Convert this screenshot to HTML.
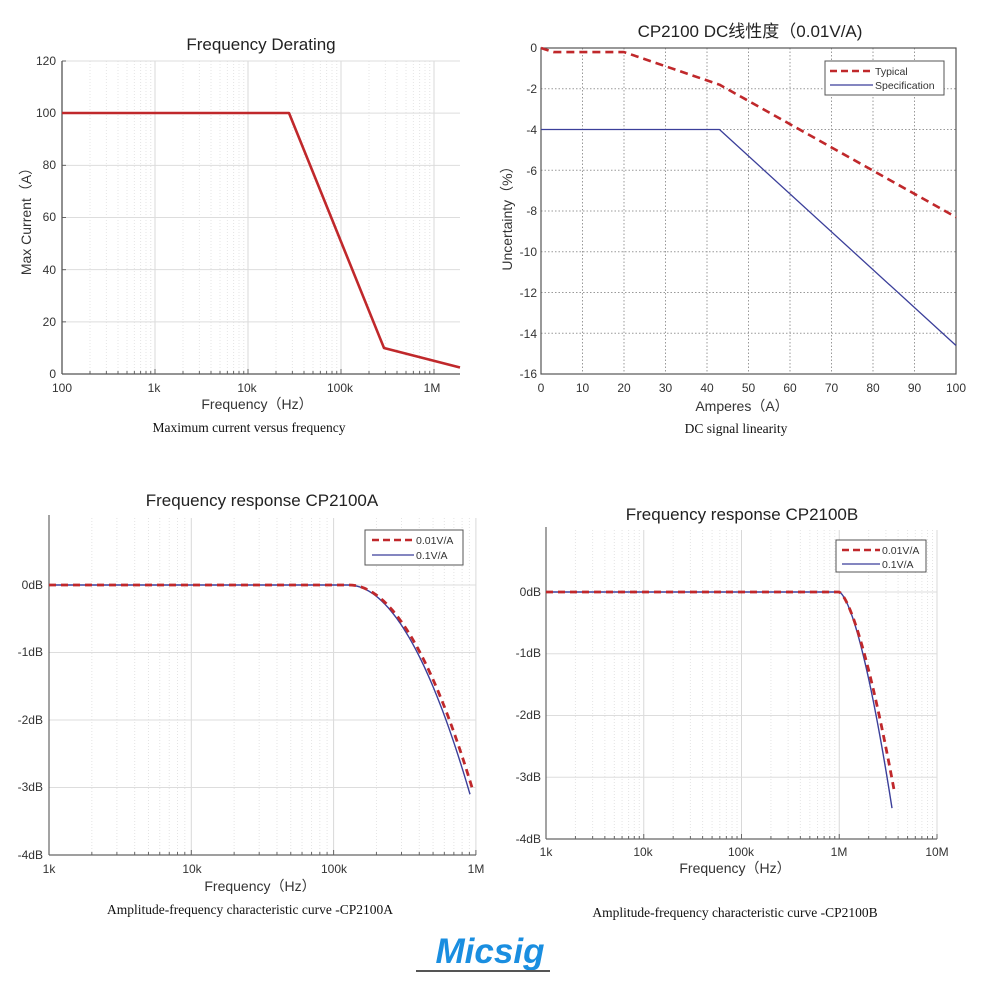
<!DOCTYPE html>
<html><head><meta charset="utf-8"><style>
html,body{margin:0;padding:0;background:#fff;}
svg{display:block;font-family:"Liberation Sans","Noto Sans CJK SC",sans-serif;}
.t{font-size:17px;fill:#222;text-anchor:middle}
.tk{font-size:12px;fill:#333}
.lb{font-size:14px;fill:#333;text-anchor:middle}
.cap{font-family:"Liberation Serif",serif;font-size:13.5px;fill:#111;text-anchor:middle}
.lg{font-size:10.5px;fill:#333}
</style></head><body>
<svg id="s" width="1000" height="1000" viewBox="0 0 1000 1000" xmlns="http://www.w3.org/2000/svg">
<g id="g"></g>
<text class="t" x="261" y="50">Frequency Derating</text>
<g class="tk" text-anchor="end">
<text x="56" y="65">120</text><text x="56" y="117">100</text><text x="56" y="169">80</text>
<text x="56" y="221">60</text><text x="56" y="274">40</text><text x="56" y="326">20</text><text x="56" y="378">0</text></g>
<g class="tk" text-anchor="middle">
<text x="62" y="392">100</text><text x="154" y="392">1k</text><text x="247" y="392">10k</text>
<text x="340" y="392">100k</text><text x="432" y="392">1M</text></g>
<text class="lb" x="257" y="409">Frequency（Hz）</text>
<text class="lb" transform="translate(31,218) rotate(-90)">Max Current（A）</text>
<text class="cap" x="249" y="432">Maximum current versus frequency</text>
<text class="t" x="750" y="37">CP2100  DC线性度（0.01V/A)</text>
<g class="tk" text-anchor="end">
<text x="537" y="52">0</text><text x="537" y="93">-2</text><text x="537" y="134">-4</text><text x="537" y="175">-6</text>
<text x="537" y="215">-8</text><text x="537" y="256">-10</text><text x="537" y="297">-12</text><text x="537" y="338">-14</text><text x="537" y="378">-16</text></g>
<g class="tk" text-anchor="middle">
<text x="541" y="392">0</text><text x="582.5" y="392">10</text><text x="624" y="392">20</text><text x="665.5" y="392">30</text><text x="707" y="392">40</text><text x="748.5" y="392">50</text><text x="790" y="392">60</text><text x="831.5" y="392">70</text><text x="873" y="392">80</text><text x="914.5" y="392">90</text><text x="956" y="392">100</text></g>
<text class="lb" x="742" y="411">Amperes（A）</text>
<text class="lb" transform="translate(512,215) rotate(-90)">Uncertainty（%）</text>
<text class="cap" x="736" y="433">DC signal linearity</text>
<rect x="825" y="61" width="119" height="34" fill="#fff" stroke="#555" stroke-width="1"/>
<line x1="830" y1="71" x2="873" y2="71" stroke="#c0282b" stroke-width="2.5" stroke-dasharray="7,4"/>
<line x1="830" y1="85" x2="873" y2="85" stroke="#3b3f9a" stroke-width="1.3"/>
<text class="lg" x="875" y="75">Typical</text><text class="lg" x="875" y="89">Specification</text>
<text class="t" x="262" y="506">Frequency response CP2100A</text>
<g class="tk" text-anchor="end">
<text x="43" y="589">0dB</text><text x="43" y="656">-1dB</text><text x="43" y="724">-2dB</text>
<text x="43" y="791">-3dB</text><text x="43" y="859">-4dB</text></g>
<g class="tk" text-anchor="middle">
<text x="49" y="873">1k</text><text x="192" y="873">10k</text><text x="334" y="873">100k</text><text x="476" y="873">1M</text></g>
<text class="lb" x="260" y="891">Frequency（Hz）</text>
<text class="cap" x="250" y="914">Amplitude-frequency characteristic curve -CP2100A</text>
<rect x="365" y="530" width="98" height="35" fill="#fff" stroke="#555"/>
<line x1="372" y1="540" x2="414" y2="540" stroke="#c0282b" stroke-width="2.5" stroke-dasharray="7,4"/>
<line x1="372" y1="555" x2="414" y2="555" stroke="#3b3f9a" stroke-width="1.3"/>
<text class="lg" x="416" y="544">0.01V/A</text><text class="lg" x="416" y="559">0.1V/A</text>
<text class="t" x="742" y="520">Frequency response CP2100B</text>
<g class="tk" text-anchor="end">
<text x="541" y="596">0dB</text><text x="541" y="657">-1dB</text><text x="541" y="719">-2dB</text>
<text x="541" y="781">-3dB</text><text x="541" y="843">-4dB</text></g>
<g class="tk" text-anchor="middle">
<text x="546" y="856">1k</text><text x="643" y="856">10k</text><text x="741" y="856">100k</text><text x="839" y="856">1M</text><text x="937" y="856">10M</text></g>
<text class="lb" x="735" y="873">Frequency（Hz）</text>
<text class="cap" x="735" y="917">Amplitude-frequency characteristic curve -CP2100B</text>
<rect x="836" y="540" width="90" height="32" fill="#fff" stroke="#555"/>
<line x1="842" y1="550" x2="880" y2="550" stroke="#c0282b" stroke-width="2.5" stroke-dasharray="7,4"/>
<line x1="842" y1="564" x2="880" y2="564" stroke="#3b3f9a" stroke-width="1.3"/>
<text class="lg" x="882" y="554">0.01V/A</text><text class="lg" x="882" y="568">0.1V/A</text>
<text x="490" y="963" text-anchor="middle" style="font-family:'Liberation Sans',sans-serif;font-weight:bold;font-style:italic;font-size:35px;fill:#1a8ee0">Micsig</text>
<line x1="416" y1="971" x2="550" y2="971" stroke="#555" stroke-width="2"/>
</svg>
<script>
const g=document.getElementById('g');const NS='http://www.w3.org/2000/svg';
function el(t,a){const e=document.createElementNS(NS,t);for(const k in a)e.setAttribute(k,a[k]);g.appendChild(e);return e;}
function ln(x1,y1,x2,y2,c,w,d){const a={x1,y1,x2,y2,stroke:c,'stroke-width':w||1};if(d)a['stroke-dasharray']=d;el('line',a);}
function pl(pts,c,w,d){const a={points:pts.map(p=>p.join(',')).join(' '),fill:'none',stroke:c,'stroke-width':w,'stroke-linejoin':'round'};if(d)a['stroke-dasharray']=d;el('polyline',a);}
function logGrid(x0,x1,dec,yT,yB,maxX){
  for(let d=0;;d++){const b=x0+d*dec;if(b>maxX+0.5)break;
    for(let m=1;m<10;m++){const x=b+Math.log10(m)*dec;if(x>maxX+0.5)break;
      ln(x,yT,x,yB,m==1?'#d8d8d8':'#e4e4e4',1,m==1?null:'1,2');
      ln(x,yB,x,yB-(m==1?5:3),'#666',1);}}
}
const R='#c0282b',B='#3b3f9a';
logGrid(62,0,93,61,374,460);
for(let i=0;i<=6;i++){const y=61+i*52.17;ln(62,y,460,y,'#ddd',1);ln(62,y,66,y,'#666',1);}
ln(62,61,62,374,'#555',1.3);ln(62,374,460,374,'#555',1.3);
pl([[62,113],[289,113],[384,348],[460,367.5]],R,2.6);
for(let i=1;i<10;i++){const x=541+i*41.5;ln(x,48,x,374,'#999',1,'1.5,2');}
for(let i=1;i<8;i++){const y=48+i*40.75;ln(541,y,956,y,'#999',1,'1.5,2');}
el('rect',{x:541,y:48,width:415,height:326,fill:'none',stroke:'#555','stroke-width':1.2});
const X2=v=>541+v*4.15,Y2=v=>48-v*20.375;
pl([[0,0],[3,-0.2],[20,-0.2],[43,-1.8],[100,-8.3]].map(p=>[X2(p[0]),Y2(p[1])]),R,2.6,'8,5');
pl([[0,-4],[43,-4],[100,-14.6]].map(p=>[X2(p[0]),Y2(p[1])]),B,1.3);
logGrid(49,0,142.3,518,855,476);
for(let i=0;i<=4;i++){const y=585+i*67.5;ln(49,y,476,y,'#ddd',1);}
ln(49,515,49,855,'#666',1.2);ln(49,855,476,855,'#666',1.2);
function curve(xs,xe,y0,dy,endDb,p){const pts=[[xs-400,y0]];for(let i=0;i<=40;i++){const t=i/40;pts.push([xs+(xe-xs)*t,y0-endDb*Math.pow(t,p)*dy]);}return pts;}
let p3=curve(348,470,585,67.5,-3.1,2.0);p3[0][0]=49;
let p3r=curve(349,472,585,67.5,-3.0,2.0);p3r[0][0]=49;
pl(p3,B,1.4);pl(p3r,R,2.8,'7,5');
logGrid(546,0,97.75,530,839,937);
for(let i=0;i<=4;i++){const y=592+i*61.75;ln(546,y,937,y,'#ddd',1);}
ln(546,527,546,839,'#666',1.2);ln(546,839,937,839,'#666',1.2);
let p4=curve(839,892,592,61.75,-3.5,1.57);p4[0][0]=546;
let p4r=curve(839,894,592,61.75,-3.2,1.5);p4r[0][0]=546;
pl(p4,B,1.4);pl(p4r,R,2.8,'7,5');
</script>
</body></html>
